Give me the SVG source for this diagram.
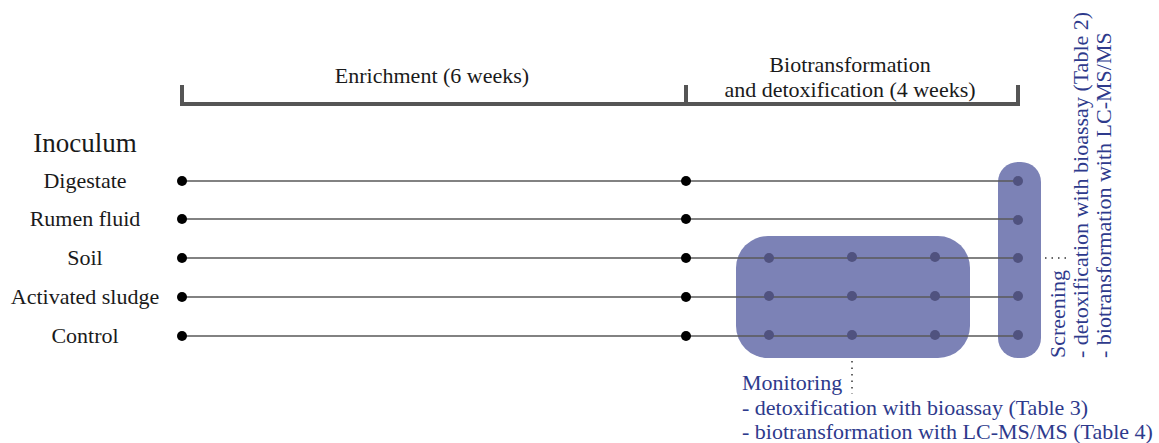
<svg xmlns="http://www.w3.org/2000/svg" width="1159" height="443" viewBox="0 0 1159 443">
<style>
.t{font-family:"Liberation Serif","DejaVu Serif",serif;font-size:22px;fill:#1a1a1a}
.b{font-family:"Liberation Serif","DejaVu Serif",serif;font-size:22px;fill:#2e3a8c}
.ln{stroke:#5a5a5a;stroke-width:1.5;fill:none}
.br{stroke:#555;stroke-width:4;fill:none}
.dot{fill:#000}
.idot{fill:#50527f}
.box{fill:#7c82b6}
.dt{stroke:#666;stroke-width:2;stroke-dasharray:1.5 5;fill:none}
</style>
<rect width="1159" height="443" fill="#fff"/>
<g id="timeline">
<path class="br" d="M180,104H1020M182,85V104M686,85V104M1018,85V104"/>
<text class="t" x="432" y="83" text-anchor="middle">Enrichment (6 weeks)</text>
<text class="t" x="850" y="72" text-anchor="middle">Biotransformation</text>
<text class="t" x="850" y="97" text-anchor="middle">and detoxification (4 weeks)</text>
</g>
<g id="labels">
<text class="t" x="85" y="152" text-anchor="middle" style="font-size:27px">Inoculum</text>
<text class="t" x="85" y="188" text-anchor="middle">Digestate</text>
<text class="t" x="85" y="226" text-anchor="middle">Rumen fluid</text>
<text class="t" x="85" y="265" text-anchor="middle">Soil</text>
<text class="t" x="85" y="304" text-anchor="middle">Activated sludge</text>
<text class="t" x="85" y="343" text-anchor="middle">Control</text>
</g>
<g id="monitoring-box"><rect class="box" x="736" y="236" width="234" height="122" rx="32"/></g>
<g id="screening-box"><rect class="box" x="998" y="162" width="43" height="196" rx="20"/></g>
<g id="connectors">
<path class="ln" d="M182,181H1018M182,219H1018M182,258H1018M182,297H1018M182,336H1018"/>
<path class="dt" d="M852,361V394M1045,258H1066"/>
</g>
<g id="dots">
<circle class="dot" cx="182" cy="181" r="5"/><circle class="dot" cx="182" cy="219" r="5"/><circle class="dot" cx="182" cy="258" r="5"/><circle class="dot" cx="182" cy="297" r="5"/><circle class="dot" cx="182" cy="336" r="5"/>
<circle class="dot" cx="686" cy="181" r="5"/><circle class="dot" cx="686" cy="219" r="5"/><circle class="dot" cx="686" cy="258" r="5"/><circle class="dot" cx="686" cy="297" r="5"/><circle class="dot" cx="686" cy="336" r="5"/>
<circle class="idot" cx="769" cy="258" r="5"/><circle class="idot" cx="852" cy="257" r="5"/><circle class="idot" cx="935" cy="257" r="5"/>
<circle class="idot" cx="769" cy="296" r="5"/><circle class="idot" cx="852" cy="296" r="5"/><circle class="idot" cx="935" cy="296" r="5"/>
<circle class="idot" cx="769" cy="335" r="5"/><circle class="idot" cx="852" cy="335" r="5"/><circle class="idot" cx="935" cy="335" r="5"/>
<circle class="idot" cx="1018" cy="181" r="5"/><circle class="idot" cx="1018" cy="220" r="5"/><circle class="idot" cx="1018" cy="258" r="5"/><circle class="idot" cx="1018" cy="296" r="5"/><circle class="idot" cx="1018" cy="335" r="5"/>
</g>
<g id="monitoring-text">
<text class="b" x="742" y="390">Monitoring</text>
<text class="b" x="742" y="415">- detoxification with bioassay (Table 3)</text>
<text class="b" x="742" y="439">- biotransformation with LC-MS/MS (Table 4)</text>
</g>
<g id="screening-text" transform="translate(1065,358) rotate(-90)">
<text class="b" x="0" y="0">Screening</text>
<text class="b" x="0" y="23">- detoxification with bioassay (Table 2)</text>
<text class="b" x="0" y="46">- biotransformation with LC-MS/MS</text>
</g>
</svg>
